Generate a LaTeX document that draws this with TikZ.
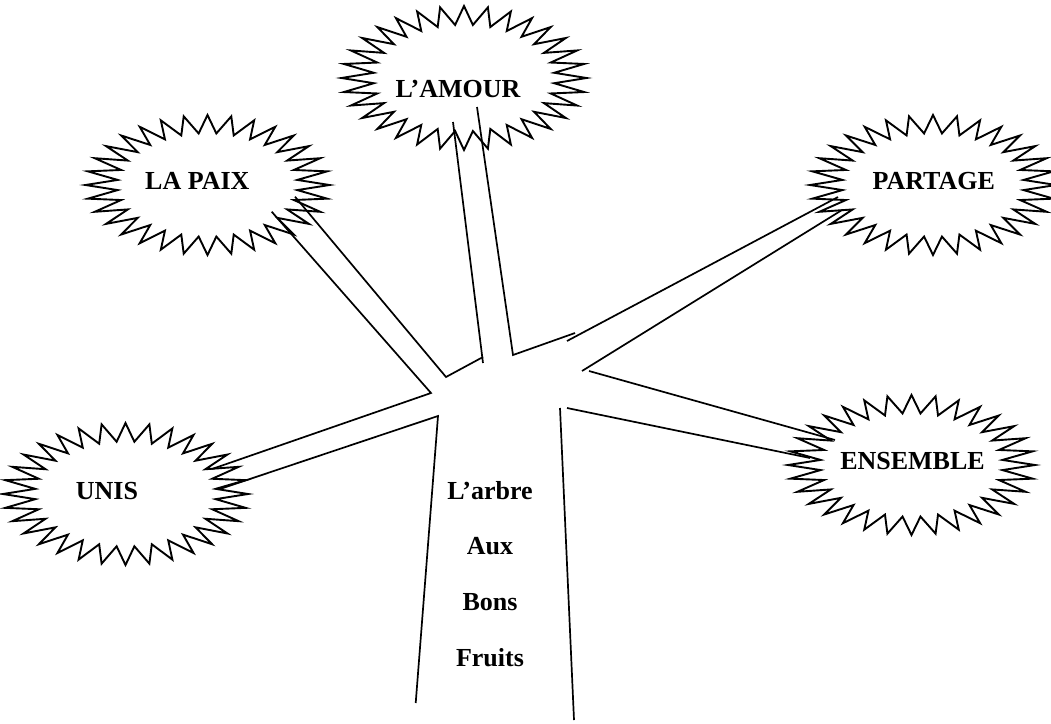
\documentclass[tikz,border=0pt]{standalone}
\usepackage{fontspec}
\setmainfont{Liberation Serif}
\tikzset{
  lbl/.style={font=\bfseries\fontsize{26}{30}\selectfont, inner sep=0pt, anchor=base},
  branch/.style={line width=1.7pt, line join=miter, line cap=butt},
  burstline/.style={line width=1.9pt, line join=miter},
}
% \burst{cx}{cy}{rx}{ry}
\newcommand\burst[4]{%
  \draw[burstline] ({#1+#3},#2)
    \foreach \k [evaluate=\k as \a using \k*5.625,
                 evaluate=\k as \r using 0.87+0.13*cos(\k*180)] in {1,...,63}
      { -- ({#1+\r*#3*cos(\a)},{#2+\r*#4*sin(\a)}) } -- cycle;}
\begin{document}
\begin{tikzpicture}[x=1pt,y=-1pt]
\useasboundingbox (0,0) rectangle (1051,723);
\fill[white] (0,0) rectangle (1051,723);

% starbursts
\burst{464}{78}{122.5}{72}
\burst{207.5}{185}{122}{70}
\burst{933}{185}{123}{70}
\burst{911.5}{465}{123.5}{70}
\burst{125.5}{494}{122.5}{71}

% labels
\node[lbl] (amour) at (458,97.7) {L’AMOUR};
\node[lbl] (paix) at (197.3,189.3) {LA PAIX};
\node[lbl] (partage) at (933.7,189) {PARTAGE};
\node[lbl] (ensemble) at (912.5,469.3) {ENSEMBLE};
\node[lbl] (unis) at (107,499) {UNIS};
\node[lbl] (t1) at (490,499.3) {L’arbre};
\node[lbl] (t2) at (490,554) {Aux};
\node[lbl] (t3) at (490,610.7) {Bons};
\node[lbl] (t4) at (490,666.7) {Fruits};

% branch points
\coordinate (am1) at (453,122);
\coordinate (am2) at (483,363);
\coordinate (am3) at (477,107);
\coordinate (am4) at (513,355);
\coordinate (am5) at (575,333);
\coordinate (pa1) at (567,341);
\coordinate (pa2) at (838,197);
\coordinate (pa3) at (842,210);
\coordinate (pa4) at (582,371);
\coordinate (en1) at (589,371);
\coordinate (en2) at (835,440);
\coordinate (en3) at (810,458);
\coordinate (en4) at (567,408);
\coordinate (tr1) at (560,408);
\coordinate (tr2) at (574,720);
\coordinate (tl1) at (415.7,703);
\coordinate (tl2) at (438,416);
\coordinate (un1) at (220,489);
\coordinate (un2) at (212,469);
\coordinate (un3) at (431,393);
\coordinate (lp1) at (271.7,211.7);
\coordinate (lp2) at (295,196.7);
\coordinate (lp3) at (446,377);
\coordinate (lp4) at (483,357);

\draw[branch] (am1) -- (am2);
\draw[branch] (am3) -- (am4) -- (am5);
\draw[branch] (pa1) -- (pa2);
\draw[branch] (pa3) -- (pa4);
\draw[branch] (en1) -- (en2);
\draw[branch] (en3) -- (en4);
\draw[branch] (tr1) -- (tr2);
\draw[branch] (tl1) -- (tl2) -- (un1);
\draw[branch] (un2) -- (un3) -- (lp1);
\draw[branch] (lp2) -- (lp3) -- (lp4);
\end{tikzpicture}
\end{document}
